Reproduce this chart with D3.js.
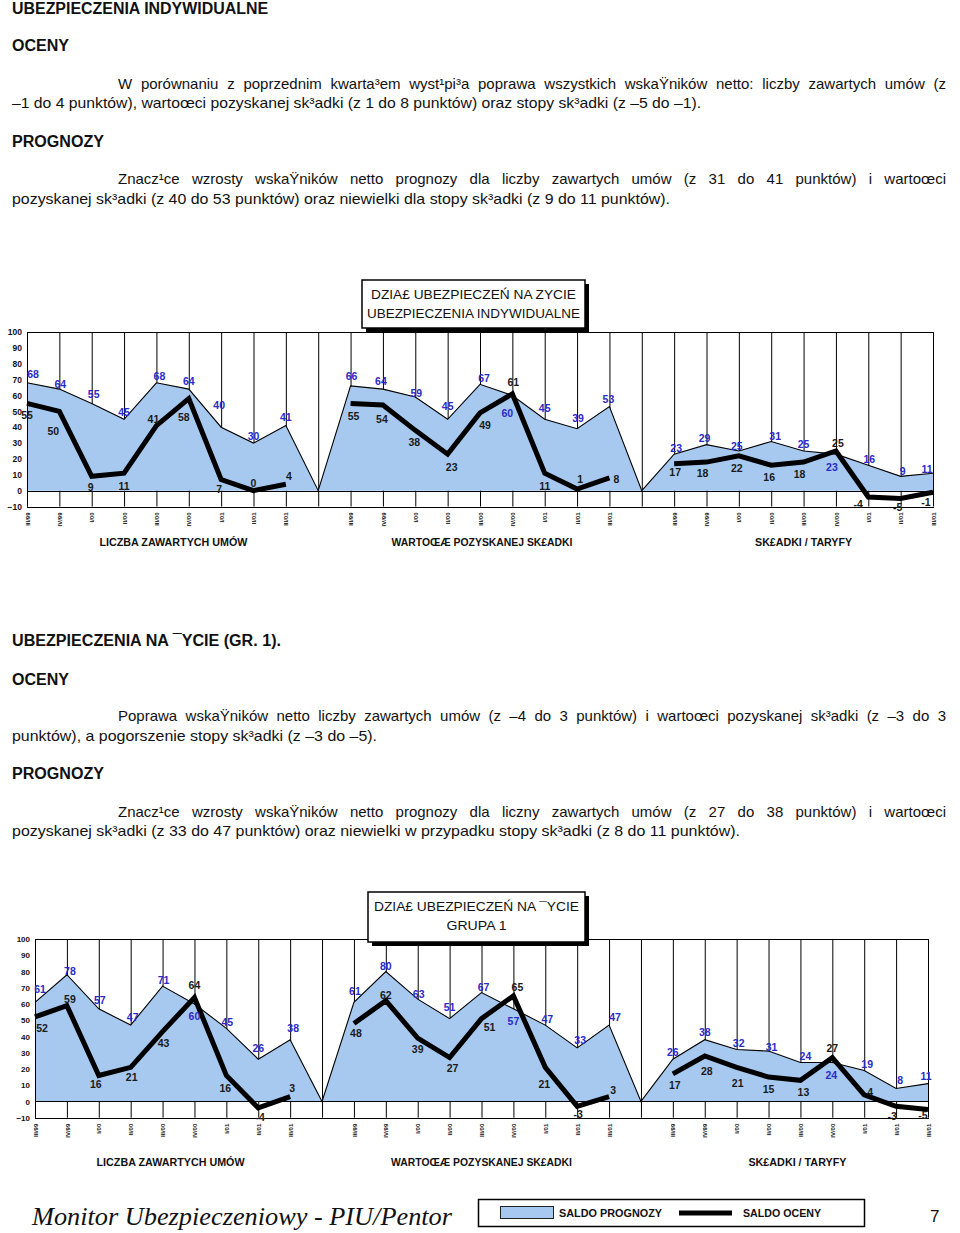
<!DOCTYPE html>
<html><head><meta charset="utf-8">
<script src="https://cdn.jsdelivr.net/npm/d3@7"></script>
<style>body{margin:0;background:#fff} svg{display:block}</style>
</head><body>
<svg id="page" width="960" height="1233"></svg>
<script>
// ---------- DATA ----------
const quarters = ["III/99","IV/99","I/00","II/00","III/00","IV/00","I/01","II/01","III/01"];
const sectionTitles = ["LICZBA ZAWARTYCH UMÓW","WARTOŒÆ POZYSKANEJ SK£ADKI","SK£ADKI / TARYFY"];
const yTicks = [-10,0,10,20,30,40,50,60,70,80,90,100];

// Chart 1: Ubezpieczenia indywidualne
const c1ProgUmowy   = [68,64,55,45,68,64,40,30,41];
const c1OcenaUmowy  = [55,50,9,11,41,58,7,0,4];
const c1ProgSkladka = [66,64,59,45,67,60,45,39,53];
const c1OcenaSkladka= [55,54,38,23,49,61,11,1,8];
const c1ProgTaryfy  = [23,29,25,31,25,23,16,9,11];
const c1OcenaTaryfy = [17,18,22,16,18,25,-4,-5,-1];

// Chart 2: Grupa 1
const c2ProgUmowy   = [61,78,57,47,71,60,45,26,38];
const c2OcenaUmowy  = [52,59,16,21,43,64,16,-4,3];
const c2ProgSkladka = [61,80,63,51,67,57,47,33,47];
const c2OcenaSkladka= [48,62,39,27,51,65,21,-3,3];
const c2ProgTaryfy  = [26,38,32,31,24,24,19,8,11];
const c2OcenaTaryfy = [17,28,21,15,13,27,4,-3,-5];

const legendLabels = ["SALDO PROGNOZY","SALDO OCENY"];

// ---------- LAYOUT (label offsets, not data) ----------
const c1ProgOff = [[6,-9],[1,-5],[2,-9],[0,-7],[3,-7],[0,-8],[-2,-22],[0,-7],[0,-8],
                   [1,-10],[-2,-8],[1,-4],[0,-13],[4,-6],[-5,18],[0,-11],[1,-11],[-1,-7],
                   [2,-6],[-2,-6],[-2,-5],[4,-5],[0,-7],[-4,13],[1,-6],[2,-5],[-6,-4]];
const c1OcenaOff= [[0,12],[-6,20],[-1,11],[0,13],[-3,-6],[-5,19],[-2,10],[0,-7],[3,-8],
                   [3,13],[-1,14],[-1,12],[4,13],[5,12],[1,-12],[0,13],[3,-10],[7,1],
                   [1,9],[-4,11],[-2,12],[-2,12],[-4,12],[2,-8],[-10,7],[-3,9],[-7,10]];
const c2ProgOff = [[5,-13],[3,-4],[1,-9],[2,-8],[1,-6],[0,12],[1,-6],[0,-11],[3,-12],
                   [1,-11],[0,-5],[1,-5],[0,-11],[2,-5],[0,12],[2,-6],[3,-8],[6,-8],
                   [0,-7],[0,-8],[2,-6],[3,-4],[5,-6],[-1,13],[3,-6],[4,-8],[-2,-7]];
const c2OcenaOff= [[7,11],[3,-6],[-3,9],[1,10],[1,12],[0,-12],[-1,13],[2,9],[2,-8],
                   [2,10],[0,-6],[0,11],[3,11],[8,9],[4,-9],[-1,17],[1,8],[4,-6],
                   [2,11],[2,15],[1,16],[0,12],[3,12],[0,-9],[6,-3],[-4,10],[-5,6]];

const BLUE_FILL = "#a7c9ef";
const LABEL_BLUE = "#2a2ac8";
const FONT = "'Liberation Sans', Arial, Helvetica, sans-serif";

const svg = d3.select("#page");

function txt(x, y, s, o = {}) {
  const t = svg.append("text").attr("x", x).attr("y", y).text(s)
    .attr("font-family", o.family || FONT)
    .attr("font-size", o.size || 15)
    .attr("font-weight", o.weight || "normal")
    .attr("font-style", o.style || "normal")
    .attr("fill", o.fill || "#111");
  if (o.anchor) t.attr("text-anchor", o.anchor);
  if (o.len) t.attr("textLength", o.len).attr("lengthAdjust", o.adjust || "spacingAndGlyphs");
  return t;
}

// justified line: distribute extra space between words
function justified(x, y, s, len, size = 15) {
  const words = s.split(" ");
  const g = svg.append("g");
  const nodes = words.map(w => g.append("text").attr("y", y).text(w)
    .attr("font-family", FONT).attr("font-size", size).attr("fill", "#111"));
  const widths = nodes.map(n => n.node().getComputedTextLength());
  const total = d3.sum(widths);
  let scale = 1;
  const minGap = size * 0.25;
  if (total + minGap * (words.length - 1) > len) scale = (len - minGap * (words.length - 1)) / total;
  const gap = (len - total * scale) / (words.length - 1);
  let cx = x;
  nodes.forEach((n, k) => {
    n.attr("x", cx);
    if (scale !== 1) n.attr("textLength", widths[k] * scale).attr("lengthAdjust", "spacingAndGlyphs");
    cx += widths[k] * scale + gap;
  });
}

// ---------- PAGE TEXT ----------
const H = {size:16, weight:"bold"};
txt(12, 14, "UBEZPIECZENIA INDYWIDUALNE", {...H, len:256});
txt(12, 51, "OCENY", {...H, len:57});
justified(118, 89, "W porównaniu z poprzednim kwarta³em wyst¹pi³a poprawa wszystkich wskaŸników netto: liczby zawartych umów (z", 828);
txt(12, 108, "–1 do 4 punktów), wartoœci pozyskanej sk³adki (z 1 do 8 punktów) oraz stopy sk³adki (z –5 do –1).", {len:689});
txt(12, 147, "PROGNOZY", {...H, len:92});
justified(118, 184, "Znacz¹ce wzrosty wskaŸników netto prognozy dla liczby zawartych umów (z 31 do 41 punktów) i wartoœci", 828);
txt(12, 204, "pozyskanej sk³adki (z 40 do 53 punktów) oraz niewielki dla stopy sk³adki (z 9 do 11 punktów).", {len:658});

txt(12, 646, "UBEZPIECZENIA NA ¯YCIE (GR. 1).", {...H, len:269});
txt(12, 685, "OCENY", {...H, len:57});
justified(118, 721, "Poprawa wskaŸników netto liczby zawartych umów (z –4 do 3 punktów) i wartoœci pozyskanej sk³adki (z –3 do 3", 828);
txt(12, 741, "punktów), a pogorszenie stopy sk³adki (z –3 do –5).", {len:365});
txt(12, 779, "PROGNOZY", {...H, len:92});
justified(118, 817, "Znacz¹ce wzrosty wskaŸników netto prognozy dla liczny zawartych umów (z 27 do 38 punktów) i wartoœci", 828);
txt(12, 836, "pozyskanej sk³adki (z 33 do 47 punktów) oraz niewielki w przypadku stopy sk³adki (z 8 do 11 punktów).", {len:728});

// ---------- CHARTS ----------
function drawChart(cfg) {
  const prog = [...cfg.prog[0], 0, ...cfg.prog[1], 0, ...cfg.prog[2]];
  const ocena = [...cfg.ocena[0], null, ...cfg.ocena[1], null, ...cfg.ocena[2]];
  const cats = [...quarters, "", ...quarters, "", ...quarters];
  const idx = d3.range(cats.length);
  const x = d3.scalePoint().domain(idx).range([cfg.x0, cfg.x1]);
  const y = d3.scaleLinear().domain([-10, 100]).range([cfg.yB, cfg.yT]);
  const g = svg.append("g");

  // vertical grid lines
  g.selectAll("line.v").data(idx).join("line")
    .attr("x1", d => x(d) + 0.5).attr("x2", d => x(d) + 0.5)
    .attr("y1", y(100)).attr("y2", y(-10))
    .attr("stroke", "#000").attr("stroke-width", 1);
  // horizontal lines at 100 and -10
  g.selectAll("line.h").data([100, -10]).join("line")
    .attr("x1", cfg.x0).attr("x2", cfg.x1 + 1)
    .attr("y1", d => Math.round(y(d)) + 0.5).attr("y2", d => Math.round(y(d)) + 0.5)
    .attr("stroke", "#000").attr("stroke-width", 1);

  // prognoza area
  const area = d3.area().x((d, i) => x(i)).y0(y(0)).y1(d => y(d));
  g.append("path").datum(prog).attr("d", area).attr("fill", BLUE_FILL);
  g.append("path").datum(prog)
    .attr("d", d3.line().x((d, i) => x(i)).y(d => y(d)))
    .attr("fill", "none").attr("stroke", "#000").attr("stroke-width", 1.1);
  // zero line
  g.append("line").attr("x1", cfg.x0).attr("x2", cfg.x1 + 1)
    .attr("y1", Math.round(y(0)) + 0.5).attr("y2", Math.round(y(0)) + 0.5)
    .attr("stroke", "#000").attr("stroke-width", 1);
  // left edge
  g.append("line").attr("x1", cfg.x0 + 0.5).attr("x2", cfg.x0 + 0.5)
    .attr("y1", y(100)).attr("y2", y(-10)).attr("stroke", "#000");

  // ocena line
  g.append("path").datum(ocena)
    .attr("d", d3.line().defined(d => d !== null).x((d, i) => x(i)).y(d => y(d)))
    .attr("fill", "none").attr("stroke", "#000").attr("stroke-width", 5)
    .attr("stroke-linejoin", "miter").attr("stroke-miterlimit", 3);

  // data labels
  const progPts = [], ocPts = [];
  prog.forEach((v, i) => { if (cats[i] !== "") progPts.push({i, v}); });
  ocena.forEach((v, i) => { if (v !== null) ocPts.push({i, v}); });
  g.selectAll("text.pl").data(progPts).join("text")
    .attr("x", (d, k) => x(d.i) + cfg.progOff[k][0])
    .attr("y", (d, k) => y(d.v) + cfg.progOff[k][1])
    .attr("dy", "0.36em").attr("text-anchor", "middle")
    .attr("font-family", FONT).attr("font-size", 10.5).attr("font-weight", "bold")
    .attr("fill", LABEL_BLUE).text(d => d.v);
  g.selectAll("text.ol").data(ocPts).join("text")
    .attr("x", (d, k) => x(d.i) + cfg.ocenaOff[k][0])
    .attr("y", (d, k) => y(d.v) + cfg.ocenaOff[k][1])
    .attr("dy", "0.36em").attr("text-anchor", "middle")
    .attr("font-family", FONT).attr("font-size", 10.5).attr("font-weight", "bold")
    .attr("fill", "#1a1a1a").text(d => d.v);

  // y axis
  const ya = g.append("g").attr("transform", `translate(${cfg.x0},0)`)
    .call(d3.axisLeft(y).tickValues(yTicks).tickSize(0).tickPadding(5));
  ya.select(".domain").remove();
  ya.selectAll("text").attr("font-family", FONT).attr("font-size", cfg.ySize)
    .attr("font-weight", "bold").attr("fill", "#111");

  // x axis (rotated labels)
  const xa = g.append("g").attr("transform", `translate(0,${y(-10)})`)
    .call(d3.axisBottom(x).tickSize(0).tickFormat(i => cats[i]));
  xa.select(".domain").remove();
  xa.selectAll("text")
    .attr("transform", "rotate(-90)")
    .attr("x", -6).attr("y", 0).attr("dy", "0.35em")
    .attr("text-anchor", "end")
    .attr("font-family", FONT).attr("font-size", 6).attr("font-weight", "bold").attr("fill", "#111");

  // section titles
  sectionTitles.forEach((s, k) => {
    const cx = (x(k * 10) + x(k * 10 + 8)) / 2 + cfg.titleShift[k];
    txt(cx, cfg.titleY, s, {size: 11, weight: "bold", anchor: "middle", len: cfg.titleLen[k]});
  });

  // title box
  const b = cfg.box;
  svg.append("rect").attr("x", b.x + 4).attr("y", b.y + 4).attr("width", b.w).attr("height", b.h).attr("fill", "#000");
  svg.append("rect").attr("x", b.x).attr("y", b.y).attr("width", b.w).attr("height", b.h)
    .attr("fill", "#fff").attr("stroke", "#000").attr("stroke-width", 1.5);
  b.lines.forEach((s, k) => {
    txt(b.x + b.w / 2, b.y + 19 + k * 18.5, s, {size: 13, anchor: "middle", len: b.lens[k]});
  });
}

drawChart({
  prog: [c1ProgUmowy, c1ProgSkladka, c1ProgTaryfy],
  ocena: [c1OcenaUmowy, c1OcenaSkladka, c1OcenaTaryfy],
  progOff: c1ProgOff, ocenaOff: c1OcenaOff,
  x0: 27, x1: 933, yT: 332, yB: 506.5, ySize: 8.5,
  titleY: 546, titleShift: [17, 2, 0], titleLen: [148, 181, 97],
  box: {x: 362, y: 280, w: 223, h: 48, lines: ["DZIA£ UBEZPIECZEŃ NA ZYCIE", "UBEZPIECZENIA INDYWIDUALNE"], lens: [205, 213]}
});
drawChart({
  prog: [c2ProgUmowy, c2ProgSkladka, c2ProgTaryfy],
  ocena: [c2OcenaUmowy, c2OcenaSkladka, c2OcenaTaryfy],
  progOff: c2ProgOff, ocenaOff: c2OcenaOff,
  x0: 35, x1: 928, yT: 939, yB: 1117.7, ySize: 8,
  titleY: 1166, titleShift: [8, 0, -3], titleLen: [148, 181, 98],
  box: {x: 368, y: 892, w: 217, h: 50, lines: ["DZIA£ UBEZPIECZEŃ NA ¯YCIE", "GRUPA 1"], lens: [205, 60]}
});

// ---------- FOOTER ----------
txt(32, 1225, "Monitor Ubezpieczeniowy - PIU/Pentor", {family: "'Liberation Serif', 'Times New Roman', serif", size: 26, style: "italic", len: 420, fill: "#111"});
txt(930, 1222, "7", {size: 17, fill: "#111"});
svg.append("rect").attr("x", 478.5).attr("y", 1199.5).attr("width", 386).attr("height", 27)
  .attr("fill", "#fff").attr("stroke", "#000").attr("stroke-width", 1.5);
svg.append("rect").attr("x", 500.5).attr("y", 1206.5).attr("width", 53).attr("height", 12)
  .attr("fill", BLUE_FILL).attr("stroke", "#222").attr("stroke-width", 1);
txt(559, 1217, legendLabels[0], {size: 10.5, weight: "bold", len: 103});
svg.append("line").attr("x1", 679).attr("x2", 732).attr("y1", 1213).attr("y2", 1213)
  .attr("stroke", "#000").attr("stroke-width", 5);
txt(743, 1217, legendLabels[1], {size: 10.5, weight: "bold", len: 78});
</script>
</body></html>
